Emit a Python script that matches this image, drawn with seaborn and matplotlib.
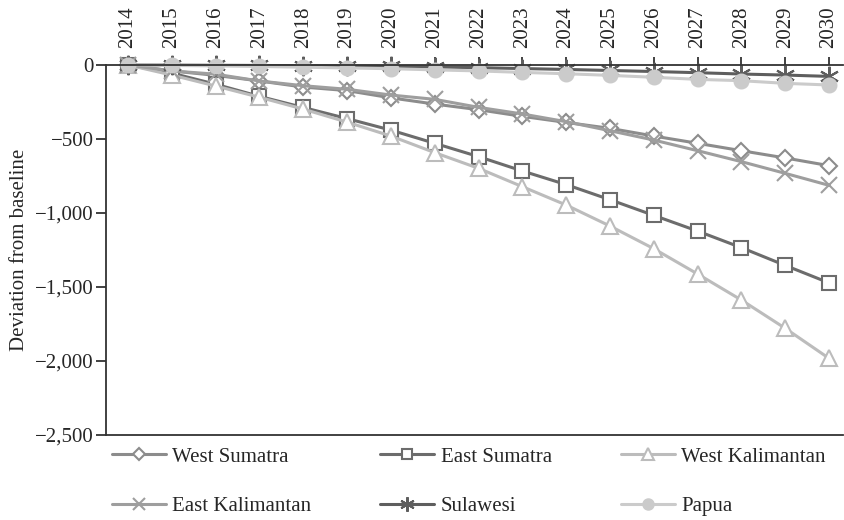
import matplotlib
matplotlib.use("Agg")
import matplotlib.pyplot as plt
import seaborn as sns
import pandas as pd
from matplotlib.ticker import FuncFormatter

years = list(range(2014, 2031))

west_sumatra = [0, -40, -70, -108, -149, -173, -222, -264, -302, -347, -388, -428, -480, -529, -579, -628, -680]
east_sumatra = [0, -55, -130, -212, -287, -362, -440, -529, -619, -716, -808, -910, -1016, -1122, -1234, -1354, -1472]
west_kalimantan = [0, -68, -142, -218, -298, -386, -480, -592, -698, -822, -946, -1088, -1241, -1412, -1588, -1779, -1982]
east_kalimantan = [0, -40, -62, -108, -140, -164, -203, -232, -286, -331, -383, -444, -507, -579, -653, -732, -813]
sulawesi = [0, -1, -2, -3, -5, -7, -10, -13, -18, -24, -30, -37, -44, -52, -61, -68, -77]
papua = [0, -3, -6, -10, -15, -20, -25, -33, -40, -50, -59, -70, -83, -97, -106, -124, -135]

regions = ["West Sumatra", "East Sumatra", "West Kalimantan",
           "East Kalimantan", "Sulawesi", "Papua"]
values = [west_sumatra, east_sumatra, west_kalimantan,
          east_kalimantan, sulawesi, papua]

styles = {
    "West Sumatra": dict(color="#8c8c8c", marker="D", ms=8, mfc="white"),
    "East Sumatra": dict(color="#6c6c6c", marker="s", ms=10, mfc="white"),
    "West Kalimantan": dict(color="#bcbcbc", marker="^", ms=11, mfc="white"),
    "East Kalimantan": dict(color="#9e9e9e", marker="x", ms=11, mfc="white"),
    "Sulawesi": dict(color="#5e5e5e", marker=(6, 2, 0), ms=14, mfc="white"),
    "Papua": dict(color="#cbcbcb", marker="o", ms=10, mfc="#cbcbcb"),
}

sns.set_style("white")
plt.rcParams["font.family"] = ["Liberation Serif", "DejaVu Serif"]

fig = plt.figure(figsize=(8.44, 5.2), dpi=100)
ax = fig.add_axes([106 / 844, 1 - 435 / 520, (843 - 106) / 844, 370 / 520])

for name, vals in zip(regions, values):
    st = styles[name]
    df = pd.DataFrame({"year": years, "value": vals})
    sns.lineplot(data=df, x="year", y="value", ax=ax, color=st["color"],
                 marker=st["marker"], markersize=st["ms"],
                 markerfacecolor=st["mfc"], markeredgecolor=st["color"],
                 markeredgewidth=1.5, linewidth=2.2, label=name, clip_on=False)

ax.set_xlim(2014 - 22 / 43.8, 2030 + 14 / 43.8)
ax.set_ylim(-2500, 0)
ax.set_xticks(years)
ax.xaxis.tick_top()
ax.tick_params(axis="x", labelrotation=90, labelsize=15, direction="out",
               length=6, width=1.3, color="#333333", pad=6)
ax.tick_params(axis="y", labelsize=15, direction="out", length=7,
               width=1.3, color="#333333", pad=2, left=True)
ax.set_yticks([0, -500, -1000, -1500, -2000, -2500])
ax.yaxis.set_major_formatter(FuncFormatter(lambda v, p: f"{v:,.0f}".replace("-", "\u2212")))
ax.set_xlabel("")
ax.set_ylabel("Deviation from baseline", fontsize=15, labelpad=4)

for side in ["left", "top", "bottom"]:
    ax.spines[side].set_visible(True)
    ax.spines[side].set_color("#333333")
    ax.spines[side].set_linewidth(1.3)
ax.spines["right"].set_visible(False)

handles, labels = ax.get_legend_handles_labels()
ax.get_legend().remove()
# legend fills column by column, so reorder to read row by row
order = [0, 3, 1, 4, 2, 5]
fig.legend([handles[i] for i in order], [labels[i] for i in order],
           loc="upper left", ncol=3,
           bbox_to_anchor=(112 / 844, 1 - 447 / 520), frameon=False,
           fontsize=15, handlelength=2.6, handletextpad=0.3,
           columnspacing=3.3, labelspacing=1.45, borderpad=0,
           borderaxespad=0, markerscale=0.75)

fig.savefig("out.png", dpi=100)
